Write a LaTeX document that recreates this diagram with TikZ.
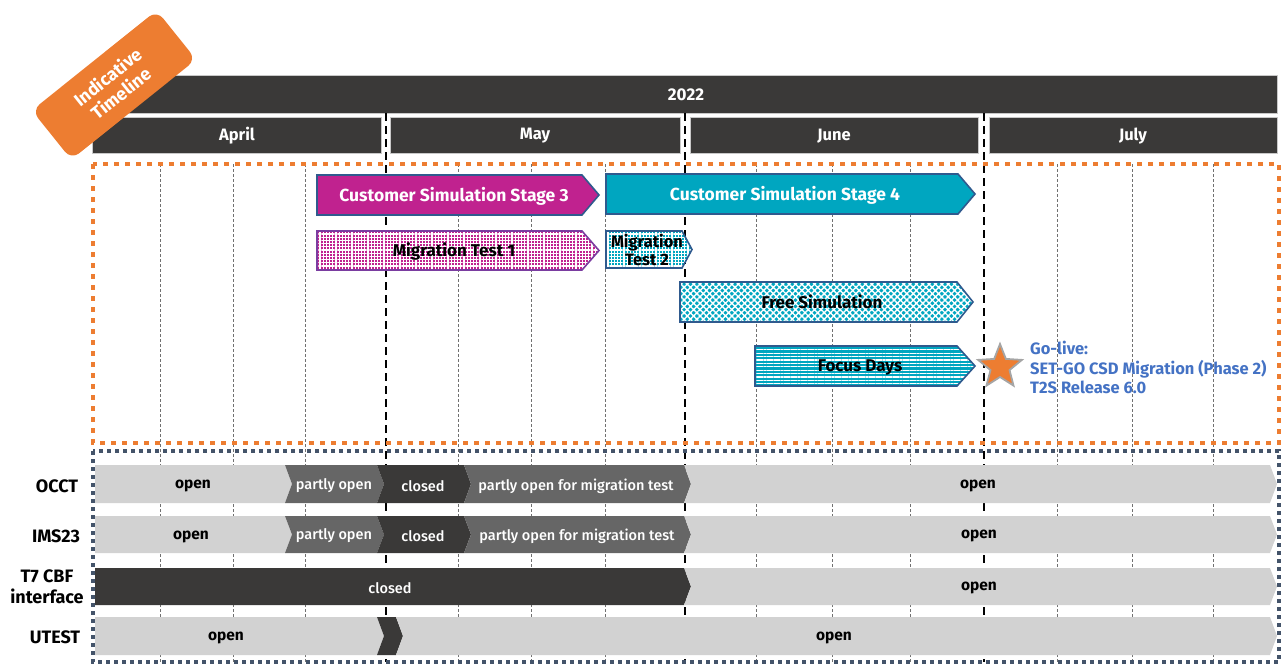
\documentclass[tikz,border=0pt]{standalone}
\usepackage{fontspec}
\setmainfont{Fira Sans}
\newfontfamily\medfont{Fira Sans Medium}
\usetikzlibrary{shapes.geometric,patterns.meta}

\definecolor{tagorange}{HTML}{ED7D31}
\definecolor{hdrdark}{HTML}{3A3938}
\definecolor{hdrline}{HTML}{C8C8C8}
\definecolor{gridgray}{HTML}{707070}
\definecolor{boxnavy}{HTML}{44546A}
\definecolor{simmagenta}{HTML}{C0228F}
\definecolor{simteal}{HTML}{00A6C0}
\definecolor{barblue}{HTML}{2F5A8E}
\definecolor{barpurple}{HTML}{7A3DA0}
\definecolor{golive}{HTML}{4472C4}
\definecolor{segopen}{HTML}{D2D2D2}
\definecolor{segpartly}{HTML}{666666}
\definecolor{segclosed}{HTML}{3A3938}
\definecolor{stargray}{HTML}{A5A5A5}

% arrow bar: style, left x, body end x, tip x, top y, bottom y
\newcommand\arrowbar[6]{%
  \path[#1] (#2,#5) -- (#3,#5) -- (#4,{(#5+#6)/2}) -- (#3,#6) -- (#2,#6) -- cycle;}
% availability segment with a flat left edge: style, left x, right x, top y, bottom y
\newcommand\rowfirst[5]{%
  \path[#1] (#2,#4) -- (#3,#4) -- ({#3+7},{(#4+#5)/2}) -- (#3,#5) -- (#2,#5) -- cycle;}
% availability segment with a notched left edge
\newcommand\rownext[5]{%
  \path[#1] (#2,#4) -- (#3,#4) -- ({#3+7},{(#4+#5)/2}) -- (#3,#5) -- (#2,#5) -- ({#2+7},{(#4+#5)/2}) -- cycle;}

\begin{document}
\begin{tikzpicture}[x=1pt,y=-1pt,
  hdr/.style={fill=hdrdark,draw=hdrline,line width=0.8pt},
  hdrtext/.style={text=white,font=\fontsize{16.5}{18}\selectfont\bfseries},
  week/.style={draw=gridgray,line width=0.6pt,dash pattern=on 3pt off 2pt},
  monthline/.style={draw=black,line width=2pt,dash pattern=on 8pt off 5pt},
  stagebar/.style={draw=barblue,line width=1.6pt},
  stagetext/.style={text=white,font=\fontsize{17.5}{19}\selectfont\bfseries},
  bartext/.style={text=black,font=\fontsize{17}{19}\selectfont\bfseries},
  gridfill/.style={preaction={fill=#1},pattern={Hatch[angle=0,distance=3.2pt,line width=1.3pt]},pattern color=white},
  diamondfill/.style={preaction={fill=#1},pattern={Hatch[angle=45,distance=4.5pt,line width=1.4pt]},pattern color=white},
  stripefill/.style={preaction={fill=#1},pattern={Lines[angle=0,distance=3.4pt,line width=1.3pt]},pattern color=white},
  rowlabel/.style={text=black,font=\fontsize{18}{21}\selectfont\bfseries,align=center},
  darktext/.style={text=black,font=\fontsize{15.5}{17}\selectfont\bfseries},
  lighttext/.style={text=white,font=\fontsize{14.5}{16}\medfont},
]
\useasboundingbox (0,0) rectangle (1284,666);

% ---- header: year and months
\path[hdr] (92,75) rectangle (1277,113);
\node[hdrtext,font=\fontsize{17}{18}\selectfont\bfseries] (year) at (686,95) {2022};
\path[hdr] (92,117) rectangle (381,153);
\path[hdr] (390,117) rectangle (680,153);
\path[hdr] (690,117) rectangle (978,153);
\path[hdr] (989,117) rectangle (1277,153);
\node[hdrtext] (april) at (237,136) {April};
\node[hdrtext] (may) at (535,136) {May};
\node[hdrtext] (june) at (834,136) {June};
\node[hdrtext] (july) at (1133,136) {July};

% ---- week grid and month boundaries
\foreach \wx in {160,233,305,458,531,605,756,832,910,1057,1132,1213}
  \draw[week] (\wx,164) -- (\wx,662);
\foreach \mx in {386,685,984}
  \draw[monthline] (\mx,113) -- (\mx,662);

% ---- framing boxes
\draw[tagorange,line width=4.5pt,dash pattern=on 5pt off 6pt] (93,164) rectangle (1279,443);
\draw[boxnavy,line width=4pt,dash pattern=on 4pt off 4pt] (93,451) rectangle (1279,662);

% ---- simulation phases
\arrowbar{stagebar,fill=simmagenta}{317}{582}{599}{175}{215}
\node[stagetext] (cs3) at (454,196) {Customer Simulation Stage 3};
\arrowbar{stagebar,fill=simteal}{606}{958}{975}{174}{214}
\node[stagetext] (cs4) at (785,195) {Customer Simulation Stage 4};

\arrowbar{gridfill=simmagenta,draw=barpurple,line width=1.6pt}{317}{582}{599}{231}{270}
\node[bartext] (mt1) at (454,251) {Migration Test 1};
\arrowbar{gridfill=simteal,draw=barblue,line width=1.6pt}{606}{682}{692}{231}{268}
\node[bartext,font=\fontsize{16.5}{18}\selectfont\bfseries,align=center] (mt2) at (647,250) {Migration\\Test 2};

\arrowbar{diamondfill=simteal,draw=barblue,line width=1.6pt}{680}{957}{973}{282}{322}
\node[bartext] (free) at (822,302) {Free Simulation};

\arrowbar{stripefill=simteal,draw=barblue,line width=1.6pt}{755}{957}{975}{346}{386}
\node[bartext] (focus) at (860,367) {Focus Days};

% ---- go-live milestone
\node[star,star points=5,star point ratio=2.3,minimum size=46pt,inner sep=0pt,
      fill=tagorange,draw=stargray,line width=1.8pt] (star) at (1000,367) {};
\node[anchor=north west,align=left,text=golive,inner sep=0pt,
      font=\fontsize{16.5}{19.5}\selectfont\bfseries] (golivetext) at (1030,341)
  {Go-live:\\SET-GO CSD Migration (Phase 2)\\T2S Release 6.0};

% ---- system availability rows
\node[rowlabel] (occt) at (57,486) {OCCT};
\rowfirst{fill=segopen}{95}{285}{465}{503}
\rownext{fill=segpartly}{285}{377}{465}{503}
\rownext{fill=segclosed}{377}{464}{465}{503}
\rownext{fill=segpartly}{464}{684}{465}{503}
\rownext{fill=segopen}{684}{1270}{465}{503}
\node[darktext] (occt1) at (193,486) {open};
\node[lighttext] (occt2) at (334,486) {partly open};
\node[lighttext] (occt3) at (423,486) {closed};
\node[lighttext] (occt4) at (576,486) {partly open for migration test};
\node[darktext] (occt5) at (978,486) {open};

\node[rowlabel] (ims) at (56,536) {IMS23};
\rowfirst{fill=segopen}{95}{285}{516}{553}
\rownext{fill=segpartly}{285}{377}{516}{553}
\rownext{fill=segclosed}{377}{464}{516}{553}
\rownext{fill=segpartly}{464}{684}{516}{553}
\rownext{fill=segopen}{684}{1270}{516}{553}
\node[darktext] (ims1) at (191,537) {open};
\node[lighttext] (ims2) at (334,536) {partly open};
\node[lighttext] (ims3) at (423,536) {closed};
\node[lighttext] (ims4) at (577,536) {partly open for migration test};
\node[darktext] (ims5) at (979,536) {open};

\node[rowlabel] (t7) at (47,587) {T7 CBF\\interface};
\rowfirst{fill=segclosed}{95}{684}{568}{605}
\rownext{fill=segopen}{684}{1270}{568}{605}
\node[lighttext] (t71) at (390,588) {closed};
\node[darktext] (t72) at (979,588) {open};

\node[rowlabel] (utest) at (55,637) {UTEST};
\rowfirst{fill=segopen}{95}{377}{617}{655}
\rownext{fill=segclosed}{377}{396}{617}{655}
\rownext{fill=segopen}{396}{1270}{617}{655}
\node[darktext] (ut1) at (226,638) {open};
\node[darktext] (ut2) at (834,638) {open};

% ---- indicative tag
\node[fill=tagorange,rounded corners=10pt,rotate=38.7,minimum width=160pt,
      minimum height=63pt,inner sep=0pt,align=center,text=white,
      font=\fontsize{18}{21}\selectfont\bfseries] (tag) at (114,85)
  {Indicative\\Timeline};
\end{tikzpicture}
\end{document}
